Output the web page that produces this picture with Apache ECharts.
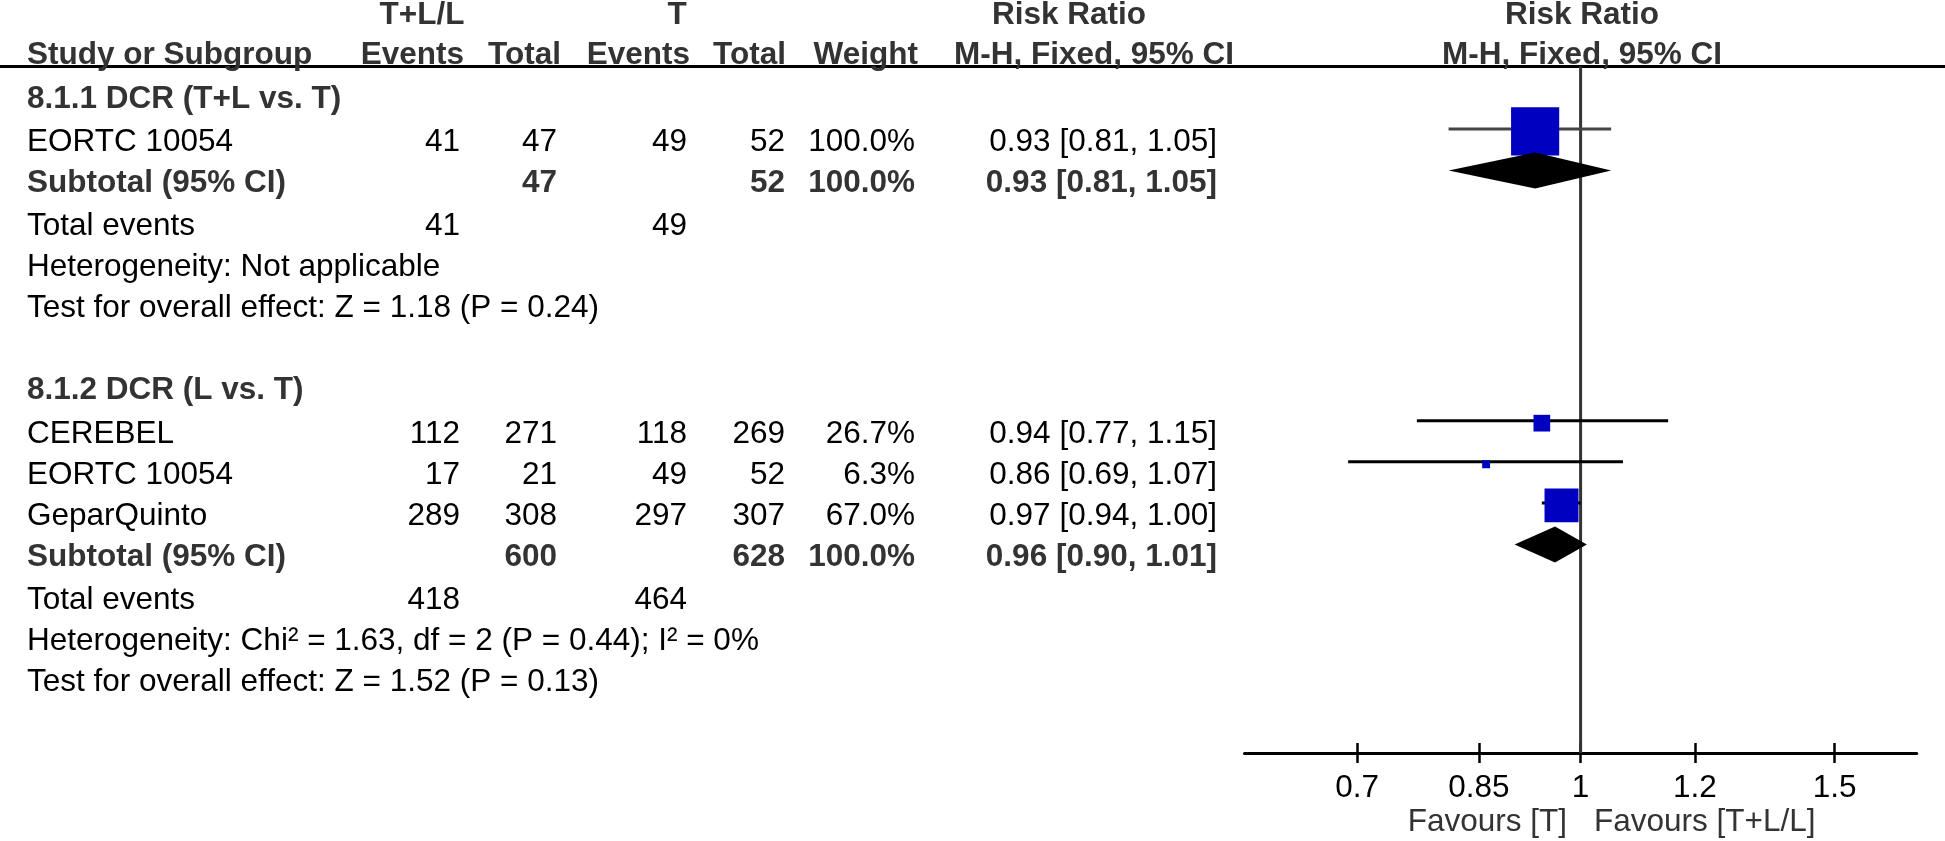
<!DOCTYPE html>
<html>
<head>
<meta charset="utf-8">
<script src="https://cdn.jsdelivr.net/npm/echarts@6/dist/echarts.min.js"></script>
<style>html,body{margin:0;padding:0;background:#fff;}#chart{width:1945px;height:841px;}</style>
</head>
<body>
<div id="chart"></div>
<script>
// ---------------- data ----------------
const groupTitles = ['8.1.1 DCR (T+L vs. T)', '8.1.2 DCR (L vs. T)'];
const studyNames = ['EORTC 10054', 'CEREBEL', 'EORTC 10054', 'GeparQuinto'];
const studyGroup = [0, 1, 1, 1];
const expEvents = [41, 112, 17, 289];
const expTotal = [47, 271, 21, 308];
const ctlEvents = [49, 118, 49, 297];
const ctlTotal = [52, 269, 52, 307];
const weights = [100.0, 26.7, 6.3, 67.0];
const rr = [0.93, 0.94, 0.86, 0.97];
const rrLo = [0.81, 0.77, 0.69, 0.94];
const rrHi = [1.05, 1.15, 1.07, 1.00];

const subExpTotal = [47, 600];
const subCtlTotal = [52, 628];
const subWeight = [100.0, 100.0];
const subRR = [0.93, 0.96];
const subLo = [0.81, 0.90];
const subHi = [1.05, 1.01];
const totExpEvents = [41, 418];
const totCtlEvents = [49, 464];
const heterogeneity = ['Heterogeneity: Not applicable', 'Heterogeneity: Chi\u00b2 = 1.63, df = 2 (P = 0.44); I\u00b2 = 0%'];
const overallTest = ['Test for overall effect: Z = 1.18 (P = 0.24)', 'Test for overall effect: Z = 1.52 (P = 0.13)'];

const tickValues = [0.7, 0.85, 1, 1.2, 1.5];
const tickLabels = ['0.7', '0.85', '1', '1.2', '1.5'];
const axisLimit = 1.71;
const favourLeft = 'Favours [T]';
const favourRight = 'Favours [T+L/L]';

// ---------------- layout (row positions, column anchors) ----------------
const ROW_PX = 41.1, ROW0_PX = 96;
const TEXT_DY = 3;
const headerRows = [-2.04, -1.07];
const headerLineRow = -0.72;
const groupRows = [0, 7.1];
const studyRows = [1.05, 8.15, 9.15, 10.15];
const subRows = [2.05, 11.15];
const totRows = [3.1, 12.2];
const hetRows = [4.1, 13.2];
const testRows = [5.1, 14.2];
const favourRow = 17.6;
const COL = {name: 27, ev1: 460, tot1: 557, ev2: 687, tot2: 785, wt: 915, ci: 1217};

const FONT_FAMILY = '"Liberation Sans", Arial, Helvetica, sans-serif';
const FS = 31.5;
const fmt2 = v => v.toFixed(2);
const ciText = (r, l, h) => fmt2(r) + ' [' + fmt2(l) + ', ' + fmt2(h) + ']';
const pct = w => w.toFixed(1) + '%';

// ---------------- table cells ----------------
const cells = [];
function cell(x, row, text, align, bold, color) {
  cells.push({x, row, text: String(text), align, bold: !!bold, color: color || (bold ? '#333' : '#000')});
}
// headers
cell(422, headerRows[0], 'T+L/L', 'center', true);
cell(677, headerRows[0], 'T', 'center', true);
cell(1069, headerRows[0], 'Risk Ratio', 'center', true);
cell(1582, headerRows[0], 'Risk Ratio', 'center', true);
cell(COL.name, headerRows[1], 'Study or Subgroup', 'left', true);
cell(464, headerRows[1], 'Events', 'right', true);
cell(561, headerRows[1], 'Total', 'right', true);
cell(690, headerRows[1], 'Events', 'right', true);
cell(786, headerRows[1], 'Total', 'right', true);
cell(918, headerRows[1], 'Weight', 'right', true);
cell(1094, headerRows[1], 'M-H, Fixed, 95% CI', 'center', true);
cell(1582, headerRows[1], 'M-H, Fixed, 95% CI', 'center', true);

for (let g = 0; g < groupTitles.length; g++) {
  cell(COL.name, groupRows[g], groupTitles[g], 'left', true);
  cell(COL.name, subRows[g], 'Subtotal (95% CI)', 'left', true);
  cell(COL.tot1, subRows[g], subExpTotal[g], 'right', true);
  cell(COL.tot2, subRows[g], subCtlTotal[g], 'right', true);
  cell(COL.wt, subRows[g], pct(subWeight[g]), 'right', true);
  cell(COL.ci, subRows[g], ciText(subRR[g], subLo[g], subHi[g]), 'right', true);
  cell(COL.name, totRows[g], 'Total events', 'left');
  cell(COL.ev1, totRows[g], totExpEvents[g], 'right');
  cell(COL.ev2, totRows[g], totCtlEvents[g], 'right');
  cell(COL.name, hetRows[g], heterogeneity[g], 'left');
  cell(COL.name, testRows[g], overallTest[g], 'left');
}
for (let i = 0; i < studyNames.length; i++) {
  const r = studyRows[i];
  cell(COL.name, r, studyNames[i], 'left');
  cell(COL.ev1, r, expEvents[i], 'right');
  cell(COL.tot1, r, expTotal[i], 'right');
  cell(COL.ev2, r, ctlEvents[i], 'right');
  cell(COL.tot2, r, ctlTotal[i], 'right');
  cell(COL.wt, r, pct(weights[i]), 'right');
  cell(COL.ci, r, ciText(rr[i], rrLo[i], rrHi[i]), 'right');
}
cell(1567, favourRow, favourLeft, 'right', false, '#333');
cell(1594, favourRow, favourRight, 'left', false, '#333');

// ---------------- forest data ----------------
const LINE_OFF = -0.25, SQ_OFF = -0.19, DIA_OFF = -0.235;
const studyData = studyNames.map((n, i) => [Math.log(rrLo[i]), Math.log(rrHi[i]), Math.log(rr[i]), studyRows[i], weights[i]]);
const subData = subRR.map((v, g) => [Math.log(subLo[g]), Math.log(subHi[g]), Math.log(v), subRows[g]]);

const AXIS_ROW = 15.985;
const yMin = -ROW0_PX / ROW_PX;
const yMaxTable = (841 - ROW0_PX) / ROW_PX;

const chart = echarts.init(document.getElementById('chart'), null, {renderer: 'canvas'});
const lnLim = Math.log(axisLimit);

chart.setOption({
  animation: false,
  backgroundColor: '#fff',
  grid: [
    {left: 0, top: 0, width: 1945, height: 841},
    {left: 1244.5, top: 0, width: 672.2, height: 753}
  ],
  xAxis: [
    {gridIndex: 0, type: 'value', min: 0, max: 1945, show: false},
    {gridIndex: 1, type: 'value', min: -lnLim, max: lnLim, position: 'bottom',
      axisLine: {show: true, onZero: false, lineStyle: {color: '#000', width: 3}},
      axisTick: {show: true, customValues: tickValues.map(Math.log), length: 10, lineStyle: {color: '#000', width: 2.5}},
      axisLabel: {show: true, customValues: tickValues.map(Math.log), margin: 19,
        fontSize: FS, fontFamily: FONT_FAMILY, color: '#000',
        formatter: function (v) {
          let best = 0;
          tickValues.forEach((t, k) => { if (Math.abs(Math.log(t) - v) < Math.abs(Math.log(tickValues[best]) - v)) best = k; });
          return tickLabels[best];
        }},
      splitLine: {show: false}},
    {gridIndex: 1, type: 'value', min: -lnLim, max: lnLim, position: 'bottom',
      axisLine: {show: false, onZero: false},
      axisTick: {show: true, inside: true, customValues: tickValues.map(Math.log), length: 10, lineStyle: {color: '#000', width: 2.5}},
      axisLabel: {show: false},
      splitLine: {show: false}}
  ],
  yAxis: [
    {gridIndex: 0, type: 'value', min: yMin, max: yMaxTable, inverse: true, show: false},
    {gridIndex: 1, type: 'value', min: yMin, max: AXIS_ROW, inverse: true, show: false}
  ],
  series: [
    { // header rule
      type: 'custom', xAxisIndex: 0, yAxisIndex: 0, clip: false, silent: true,
      data: [[0, headerLineRow]],
      renderItem: function (params, api) {
        const a = api.coord([0, headerLineRow]);
        const b = api.coord([1945, headerLineRow]);
        return {type: 'line', shape: {x1: a[0], y1: a[1], x2: b[0], y2: b[1]}, style: {stroke: '#000', lineWidth: 3}};
      }
    },
    { // table text
      type: 'custom', xAxisIndex: 0, yAxisIndex: 0, clip: false, silent: true,
      data: cells.map(c => [c.x, c.row]),
      renderItem: function (params, api) {
        const c = cells[params.dataIndex];
        const p = api.coord([c.x, c.row]);
        return {type: 'text', x: p[0], y: p[1] + TEXT_DY, style: {
          text: c.text, fill: c.color,
          font: (c.bold ? 'bold ' : '') + FS + 'px ' + FONT_FAMILY,
          textAlign: c.align, textVerticalAlign: 'middle'}};
      }
    },
    { // line of no effect
      type: 'custom', xAxisIndex: 1, yAxisIndex: 1, clip: false, silent: true,
      data: [[0]],
      renderItem: function (params, api) {
        const a = api.coord([0, headerLineRow]);
        const b = api.coord([0, AXIS_ROW]);
        return {type: 'line', shape: {x1: a[0], y1: a[1], x2: b[0], y2: b[1]}, style: {stroke: '#333', lineWidth: 3}};
      }
    },
    { // study CIs and boxes
      type: 'custom', xAxisIndex: 1, yAxisIndex: 1, clip: false, silent: true,
      data: studyData,
      renderItem: function (params, api) {
        const lo = api.value(0), hi = api.value(1), est = api.value(2), row = api.value(3), w = api.value(4);
        const a = api.coord([lo, row + LINE_OFF]);
        const b = api.coord([hi, row + LINE_OFF]);
        const c = api.coord([est, row + SQ_OFF]);
        const s = 5.24 + 0.429 * w;
        return {type: 'group', children: [
          {type: 'line', shape: {x1: a[0], y1: a[1], x2: b[0], y2: b[1]},
            style: {stroke: params.dataIndex === 0 ? '#444' : '#000', lineWidth: 3}},
          {type: 'rect', shape: {x: c[0] - s / 2, y: c[1] - s / 2, width: s, height: s},
            style: {fill: '#0000C0'}}
        ]};
      }
    },
    { // subtotal diamonds
      type: 'custom', xAxisIndex: 1, yAxisIndex: 1, clip: false, silent: true,
      data: subData,
      renderItem: function (params, api) {
        const lo = api.value(0), hi = api.value(1), est = api.value(2), row = api.value(3);
        const L = api.coord([lo, row + DIA_OFF]);
        const R = api.coord([hi, row + DIA_OFF]);
        const C = api.coord([est, row + DIA_OFF]);
        const h = 18;
        return {type: 'polygon', shape: {points: [[L[0], L[1]], [C[0], C[1] - h], [R[0], R[1]], [C[0], C[1] + h]]},
          style: {fill: '#000'}};
      }
    }
  ]
});
</script>
</body>
</html>
